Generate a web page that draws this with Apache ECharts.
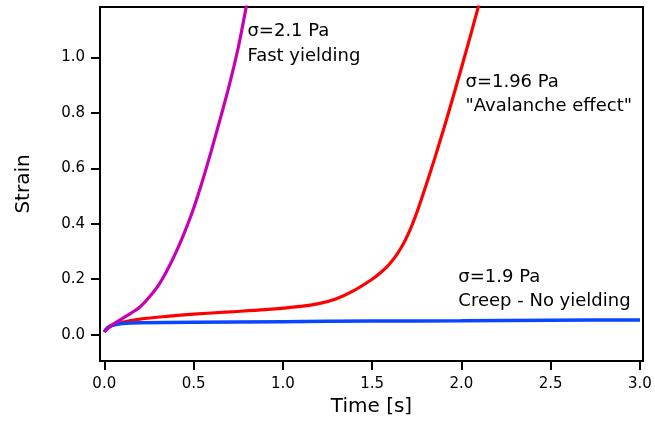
<!DOCTYPE html>
<html>
<head>
<meta charset="utf-8">
<script src="https://cdn.jsdelivr.net/npm/echarts@6/dist/echarts.min.js"></script>
<style>html,body{margin:0;padding:0;background:#fff}#c{width:655px;height:423px}</style>
</head>
<body>
<div id="c"></div>
<script>
// ---- data ----
const xTicks = [0, 0.5, 1.0, 1.5, 2.0, 2.5, 3.0];
const yTicks = [0, 0.2, 0.4, 0.6, 0.8, 1.0];

const fastT = [0, 0.025, 0.05, 0.1, 0.15, 0.2, 0.25, 0.3, 0.35, 0.4, 0.45, 0.5, 0.55, 0.6, 0.65, 0.7, 0.75, 0.8];
const fastS = [0.01, 0.025, 0.038, 0.058, 0.078, 0.10, 0.134, 0.175, 0.23, 0.295, 0.37, 0.455, 0.555, 0.665, 0.78, 0.90, 1.035, 1.2];

const avalT = [0, 0.02, 0.05, 0.1, 0.2, 0.35, 0.5, 0.7, 0.9, 1.1, 1.2, 1.3, 1.4, 1.5, 1.55, 1.6, 1.65, 1.7, 1.75, 1.8, 1.85, 1.9, 1.95, 2.0, 2.05, 2.1];
const avalS = [0.01, 0.025, 0.035, 0.045, 0.056, 0.066, 0.074, 0.082, 0.09, 0.102, 0.112, 0.13, 0.16, 0.2, 0.225, 0.257, 0.30, 0.36, 0.44, 0.535, 0.635, 0.74, 0.85, 0.962, 1.077, 1.195];

const creepT = [0, 0.01, 0.03, 0.06, 0.1, 0.2, 0.5, 1.0, 1.5, 2.0, 2.5, 3.0];
const creepS = [0.01, 0.02, 0.03, 0.036, 0.04, 0.043, 0.045, 0.047, 0.049, 0.05, 0.052, 0.053];

const annotX = [0.799, 2.02, 1.98];
const annotY = [1.05, 0.867, 0.163];
const annotText = ['σ=2.1 Pa\nFast yielding', 'σ=1.96 Pa\n"Avalanche effect"', 'σ=1.9 Pa\nCreep - No yielding'];

const xName = 'Time [s]';
const yName = 'Strain';

// ---- chart ----
const FONT = 'DejaVu Sans';
const zip = (a, b) => a.map((v, i) => [v, b[i]]);
const chart = echarts.init(document.getElementById('c'), null, {renderer: 'canvas'});
const axisCommon = {
  axisLine: {show: true, onZero: false, lineStyle: {color: '#000', width: 2}},
  splitLine: {show: false},
  axisTick: {show: true, length: 9, lineStyle: {color: '#000', width: 2}},
};
const lineCommon = {type: 'line', showSymbol: false, smooth: 0.3, clip: true};
chart.setOption({
  animation: false,
  backgroundColor: '#fff',
  grid: {left: 100, right: 12, top: 7, bottom: 62, show: true, borderColor: '#000', borderWidth: 2, backgroundColor: 'transparent'},
  xAxis: Object.assign({}, axisCommon, {
    type: 'value', min: -0.024, max: 3.017,
    name: xName, nameLocation: 'middle', nameGap: 35,
    nameTextStyle: {fontFamily: FONT, fontSize: 20, color: '#000'},
    axisTick: Object.assign({}, axisCommon.axisTick, {customValues: xTicks}),
    axisLabel: {customValues: xTicks, formatter: v => v.toFixed(1), margin: 16, fontFamily: FONT, fontSize: 15, color: '#000'}
  }),
  yAxis: Object.assign({}, axisCommon, {
    type: 'value', min: -0.095, max: 1.182,
    name: yName, nameLocation: 'middle', nameGap: 66,
    nameTextStyle: {fontFamily: FONT, fontSize: 20, color: '#000'},
    axisTick: Object.assign({}, axisCommon.axisTick, {customValues: yTicks}),
    axisLabel: {customValues: yTicks, formatter: v => v.toFixed(1), margin: 15, fontFamily: FONT, fontSize: 15, color: '#000'}
  }),
  series: [
    Object.assign({}, lineCommon, {data: zip(avalT, avalS), lineStyle: {color: '#ff0000', width: 3.2}, z: 2}),
    Object.assign({}, lineCommon, {data: zip(creepT, creepS), lineStyle: {color: '#0a46ff', width: 3.5}, z: 3}),
    Object.assign({}, lineCommon, {data: zip(fastT, fastS), lineStyle: {color: '#c800b4', width: 3.2}, z: 4}),
    {type: 'scatter', symbolSize: 1, silent: true, z: 5,
     itemStyle: {opacity: 0},
     data: annotX.map((x, i) => ({value: [x, annotY[i]], name: annotText[i]})),
     label: {show: true, position: 'right', distance: 0, formatter: p => p.name, opacity: 1,
             fontFamily: FONT, fontSize: 18, lineHeight: 24.5, color: '#000000', align: 'left'}}
  ]
});
</script>
</body>
</html>
